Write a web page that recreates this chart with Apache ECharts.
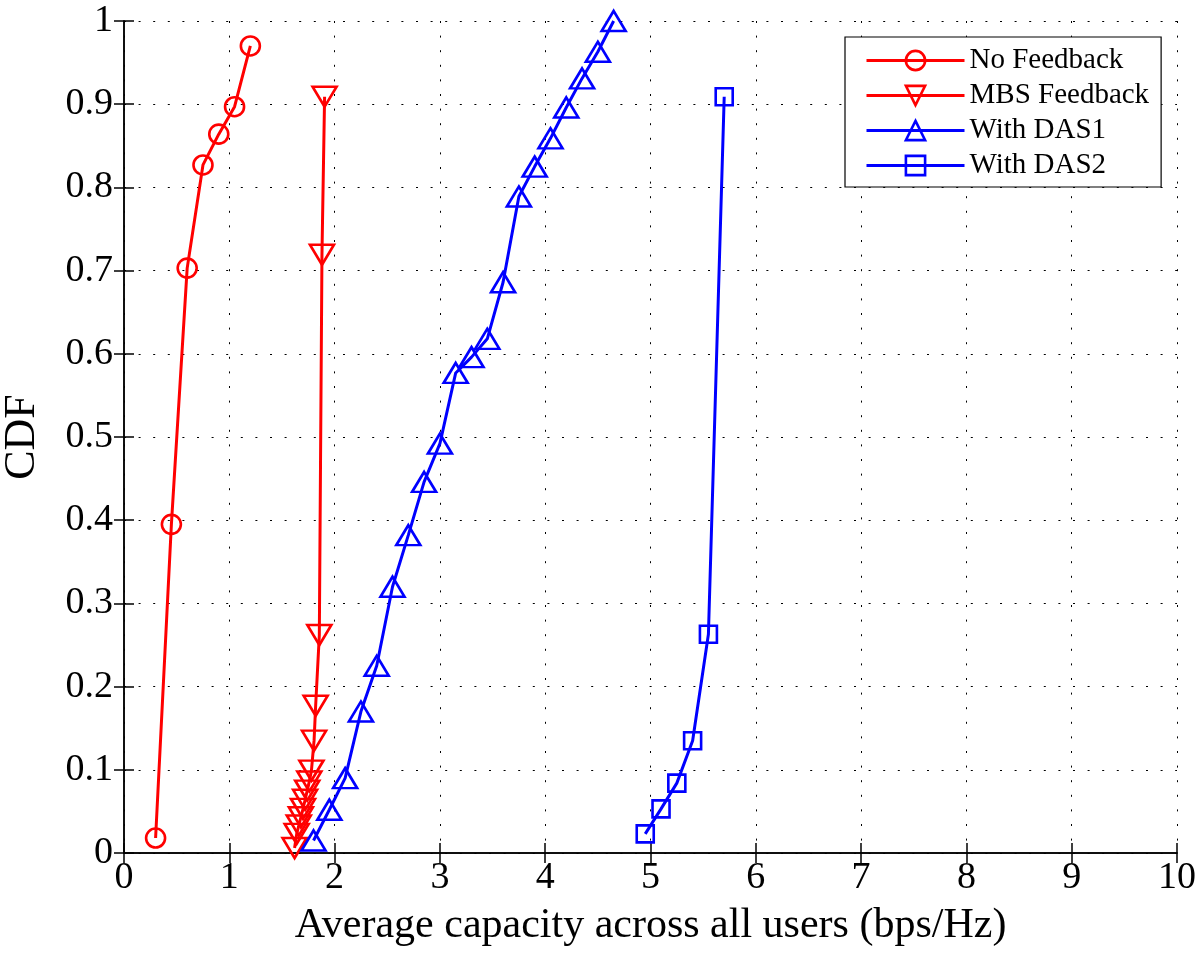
<!DOCTYPE html>
<html>
<head>
<meta charset="utf-8">
<script src="https://cdn.jsdelivr.net/npm/echarts@6/dist/echarts.min.js"></script>
<style>
  html, body { margin: 0; padding: 0; background: #fff; }
  #chart { width: 1200px; height: 959px; }
</style>
</head>
<body>
<div id="chart"></div>
<script>
// values
var noFbX = [0.3, 0.45, 0.6, 0.75, 0.9, 1.05, 1.2]
var noFbY = [0.018, 0.395, 0.703, 0.827, 0.864, 0.897, 0.970]

var mbsX = [1.62, 1.64, 1.66, 1.68, 1.70, 1.72, 1.74, 1.76, 1.78, 1.805, 1.82, 1.855, 1.88, 1.905]
var mbsY = [0.006, 0.023, 0.033, 0.043, 0.053, 0.064, 0.075, 0.086, 0.099, 0.135, 0.177, 0.262, 0.719, 0.909]

var das1X = [1.8, 1.95, 2.1, 2.25, 2.4, 2.55, 2.7, 2.85, 3.0, 3.15, 3.3, 3.45, 3.6, 3.75, 3.9, 4.05, 4.2, 4.35, 4.5, 4.65]
var das1Y = [0.015, 0.052, 0.090, 0.170, 0.225, 0.320, 0.382, 0.446, 0.492, 0.577, 0.596, 0.618, 0.686, 0.789, 0.825, 0.859, 0.896, 0.931, 0.963, 1.0]

var das2X = [4.95, 5.1, 5.25, 5.4, 5.55, 5.7]
var das2Y = [0.023, 0.053, 0.084, 0.135, 0.263, 0.909]

var names = ['No Feedback', 'MBS Feedback', 'With DAS1', 'With DAS2']

function pairs (xs, ys) {
  return xs.map(function (x, i) { return [x, ys[i]] })
}

var font = 'Liberation Serif'
var dots = [2, 12.6]

function mkSeries (name, xs, ys, color, symbol, size, rotate) {
  return {
    name: name,
    type: 'line',
    data: pairs(xs, ys),
    symbol: symbol,
    symbolSize: size,
    symbolRotate: rotate || 0,
    showAllSymbol: true,
    animation: false,
    lineStyle: { color: color, width: 3 },
    itemStyle: { color: 'rgba(0,0,0,0)', borderColor: color, borderWidth: 2.6 },
    emphasis: { disabled: true }
  }
}

var chart = echarts.init(document.getElementById('chart'))
var option = {
  backgroundColor: '#fff',
  animation: false,
  grid: { left: 124, right: 23, top: 21, bottom: 106, outerBoundsMode: 'none', containLabel: false },
  legend: {
    orient: 'vertical',
    left: 845,
    top: 37,
    padding: [9, 12, 7, 20],
    itemGap: 6,
    itemWidth: 98,
    itemHeight: 24,
    backgroundColor: '#fff',
    borderColor: '#000',
    borderWidth: 1.2,
    borderRadius: 0,
    lineStyle: { width: 3 },
    itemStyle: { borderWidth: 2.6 },
    textStyle: { fontFamily: font, fontSize: 29, color: '#000', lineHeight: 28 },
    data: names
  },
  xAxis: [
    {
      type: 'value', min: 0, max: 10, interval: 1,
      name: 'Average capacity across all users (bps/Hz)',
      nameLocation: 'middle',
      nameGap: 52,
      nameTextStyle: { fontFamily: font, fontSize: 42, color: '#000' },
      axisLine: { lineStyle: { color: '#000', width: 1.5 } },
      axisTick: { inside: true, length: 10, lineStyle: { color: '#000', width: 1.5 } },
      axisLabel: { fontFamily: font, fontSize: 38, color: '#000', margin: 6 },
      splitLine: { show: true, lineStyle: { color: '#000', width: 1, type: dots } }
    },
    {
      type: 'value', min: 0, max: 10, interval: 1, position: 'top',
      axisLine: { show: true, lineStyle: { color: '#000', width: 1.5 } },
      axisTick: { inside: true, length: 10, lineStyle: { color: '#000', width: 1.5 } },
      axisLabel: { show: false },
      splitLine: { show: false }
    }
  ],
  yAxis: [
    {
      type: 'value', min: 0, max: 1, interval: 0.1,
      name: 'CDF',
      nameLocation: 'middle',
      nameGap: 80,
      nameTextStyle: { fontFamily: font, fontSize: 44, color: '#000' },
      axisLine: { show: true, lineStyle: { color: '#000', width: 1.5 } },
      axisTick: { show: true, inside: true, length: 10, lineStyle: { color: '#000', width: 1.5 } },
      axisLabel: { fontFamily: font, fontSize: 38, color: '#000', margin: 11 },
      splitLine: { show: true, lineStyle: { color: '#000', width: 1, type: dots } }
    },
    {
      type: 'value', min: 0, max: 1, interval: 0.1, position: 'right',
      axisLine: { show: true, lineStyle: { color: '#000', width: 1.5 } },
      axisTick: { show: true, inside: true, length: 10, lineStyle: { color: '#000', width: 1.5 } },
      axisLabel: { show: false },
      splitLine: { show: false }
    }
  ],
  series: [
    mkSeries(names[0], noFbX, noFbY, '#ff0000', 'circle', 19),
    mkSeries(names[1], mbsX, mbsY, '#ff0000', 'triangle', [24, 20], 180),
    mkSeries(names[2], das1X, das1Y, '#0000ff', 'triangle', [24, 20]),
    mkSeries(names[3], das2X, das2Y, '#0000ff', 'rect', 17)
  ]
}
chart.setOption(option)
</script>
</body>
</html>
